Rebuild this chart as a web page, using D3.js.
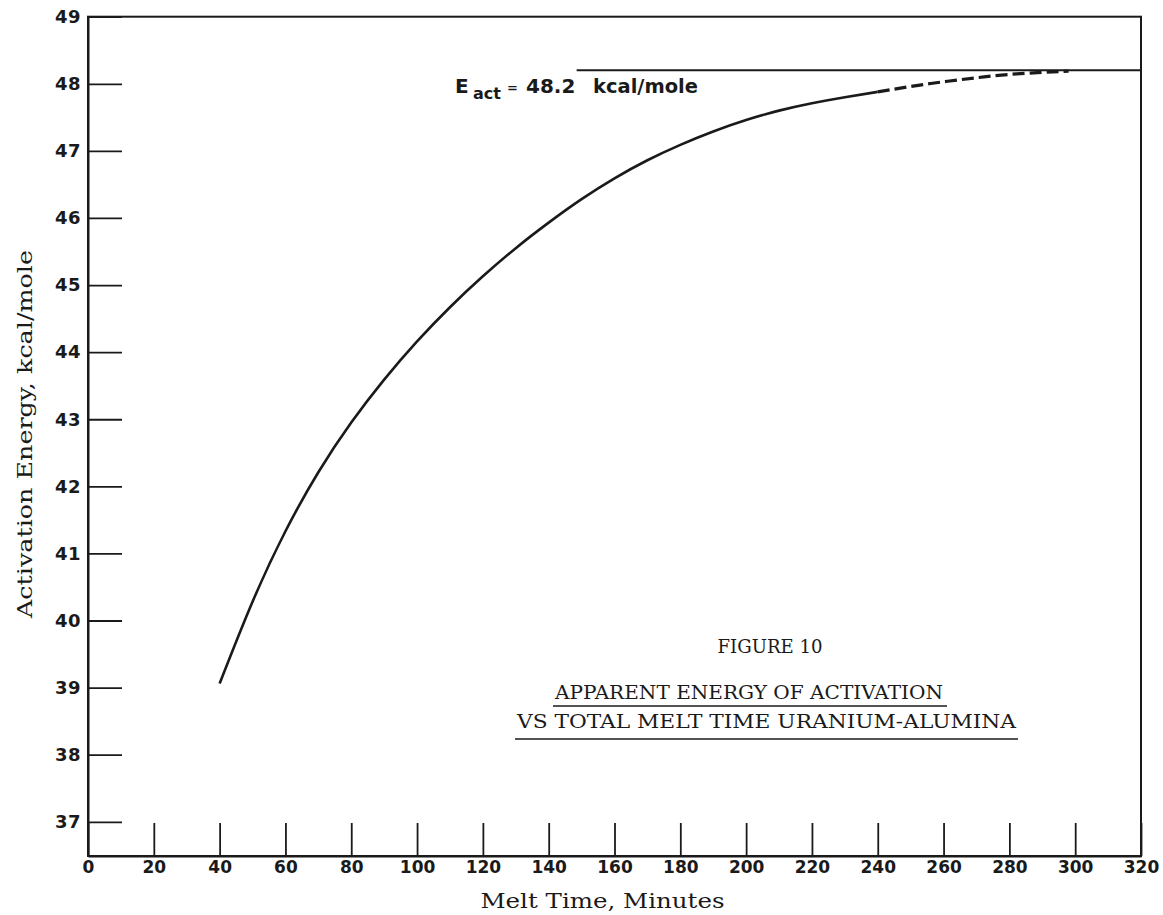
<!DOCTYPE html>
<html>
<head>
<meta charset="utf-8">
<script src="https://cdn.jsdelivr.net/npm/d3@7"></script>
<style>
  html, body { margin: 0; padding: 0; background: #fff; }
  svg { display: block; }
</style>
</head>
<body>
<script>
// ---- data ----
const xTicks = [0,20,40,60,80,100,120,140,160,180,200,220,240,260,280,300,320];
const yTicks = [37,38,39,40,41,42,43,44,45,46,47,48,49];
const timeSolid   = [40,50,60,70,80,90,100,110,120,130,140,150,160,170,180,190,200,210,220,230,240];
const energySolid = [39.06,40.28,41.33,42.21,42.95,43.59,44.16,44.67,45.13,45.55,45.93,46.28,46.59,46.86,47.09,47.29,47.46,47.60,47.71,47.80,47.88];
const timeDashed   = [240,250,260,270,280,290,298];
const energyDashed = [47.88,47.96,48.03,48.09,48.14,48.17,48.19];
const asymptote = 48.2;
const asymptoteFrom = 148.5;
const xTitle = "Melt Time, Minutes";
const yTitle = "Activation Energy, kcal/mole";
const figLabel = "FIGURE 10";
const titleLines = ["APPARENT ENERGY OF ACTIVATION", "VS TOTAL MELT TIME URANIUM-ALUMINA"];

const W = 1163, H = 915;
const svg = d3.select("body").append("svg").attr("width", W).attr("height", H);

const x = d3.scaleLinear().domain([0, 320]).range([88, 1141]);
const y = d3.scaleLinear().domain([36.49, 49]).range([856, 16.7]);

const ink = "#1a1a1a";
const sansBold = "'DejaVu Sans', sans-serif";
const serif = "'DejaVu Serif', serif";

// frame
svg.append("rect")
  .attr("x", x(0)).attr("y", y(49))
  .attr("width", x(320) - x(0)).attr("height", y(36.49) - y(49))
  .attr("fill", "none").attr("stroke", ink).attr("stroke-width", 2);

// left axis (ticks inside)
const gy = svg.append("g").attr("transform", `translate(${x(0)},0)`)
  .call(d3.axisLeft(y).tickValues(yTicks).tickSizeInner(-34).tickSizeOuter(0).tickPadding(7).tickFormat(d3.format("d")));
gy.select(".domain").attr("stroke", ink).attr("stroke-width", 2);
gy.selectAll(".tick line").attr("stroke", ink).attr("stroke-width", 1.8);
gy.selectAll(".tick text").attr("fill", ink).style("font-family", sansBold)
  .style("font-weight", "bold").style("font-size", "18px").attr("letter-spacing", "0.5px");

// bottom axis (ticks inside)
const gx = svg.append("g").attr("transform", `translate(0,${y(36.49)})`)
  .call(d3.axisBottom(x).tickValues(xTicks).tickSizeInner(-33).tickSizeOuter(0).tickPadding(5).tickFormat(d3.format("d")));
gx.select(".domain").attr("stroke", ink).attr("stroke-width", 2);
gx.selectAll(".tick line").attr("stroke", ink).attr("stroke-width", 1.8);
gx.selectAll(".tick text").attr("fill", ink).style("font-family", sansBold)
  .style("font-weight", "bold").style("font-size", "17px");

// axis titles
svg.append("text")
  .attr("x", (x(0) + x(320)) / 2 - 12).attr("y", 908)
  .attr("text-anchor", "middle").attr("fill", ink)
  .style("font-family", serif).style("font-size", "20px")
  .attr("textLength", 244).attr("lengthAdjust", "spacingAndGlyphs")
  .text(xTitle);

svg.append("text")
  .attr("transform", "translate(32,434) rotate(-90)")
  .attr("text-anchor", "middle").attr("fill", ink)
  .style("font-family", serif).style("font-size", "20px")
  .attr("textLength", 368).attr("lengthAdjust", "spacingAndGlyphs")
  .text(yTitle);

// asymptote line
svg.append("line")
  .attr("x1", x(asymptoteFrom)).attr("x2", x(320))
  .attr("y1", y(asymptote)).attr("y2", y(asymptote))
  .attr("stroke", ink).attr("stroke-width", 2);

// curves
const line = d3.line().x(d => x(d[0])).y(d => y(d[1])).curve(d3.curveNatural);
svg.append("path")
  .datum(timeSolid.map((t, i) => [t, energySolid[i]]))
  .attr("d", line).attr("fill", "none").attr("stroke", ink).attr("stroke-width", 2.6);
svg.append("path")
  .datum(timeDashed.map((t, i) => [t, energyDashed[i]]))
  .attr("d", line).attr("fill", "none").attr("stroke", ink).attr("stroke-width", 3.2)
  .attr("stroke-dasharray", "12,5");

// annotation E_act = 48.2 kcal/mole
const ann = svg.append("g").attr("fill", ink).style("font-family", sansBold).style("font-weight", "bold");
ann.append("text").attr("x", 455).attr("y", 93).style("font-size", "20px").text("E");
ann.append("text").attr("x", 473).attr("y", 99).style("font-size", "16px").text("act");
ann.append("text").attr("x", 507).attr("y", 92).style("font-size", "13px").text("=");
ann.append("text").attr("x", 526).attr("y", 93).style("font-size", "20px").text(asymptote.toFixed(1));
ann.append("text").attr("x", 593).attr("y", 93).style("font-size", "20px")
  .attr("textLength", 105).attr("lengthAdjust", "spacingAndGlyphs").text("kcal/mole");

// figure caption
const cap = svg.append("g").attr("fill", ink).style("font-family", serif);
cap.append("text").attr("x", 770).attr("y", 653).attr("text-anchor", "middle")
  .style("font-size", "19px").attr("textLength", 105).attr("lengthAdjust", "spacingAndGlyphs").text(figLabel);
const capLines = [
  {cx: 749, base: 699, w: 388, ux1: 553, ux2: 947, uy: 706},
  {cx: 766.5, base: 728, w: 499, ux1: 515, ux2: 1018, uy: 739}
];
titleLines.forEach((t, i) => {
  const c = capLines[i];
  cap.append("text").attr("x", c.cx).attr("y", c.base).attr("text-anchor", "middle")
    .style("font-size", "19px").attr("textLength", c.w).attr("lengthAdjust", "spacingAndGlyphs").text(t);
  svg.append("line").attr("x1", c.ux1).attr("x2", c.ux2).attr("y1", c.uy).attr("y2", c.uy)
    .attr("stroke", ink).attr("stroke-width", 1.6);
});
</script>
</body>
</html>
